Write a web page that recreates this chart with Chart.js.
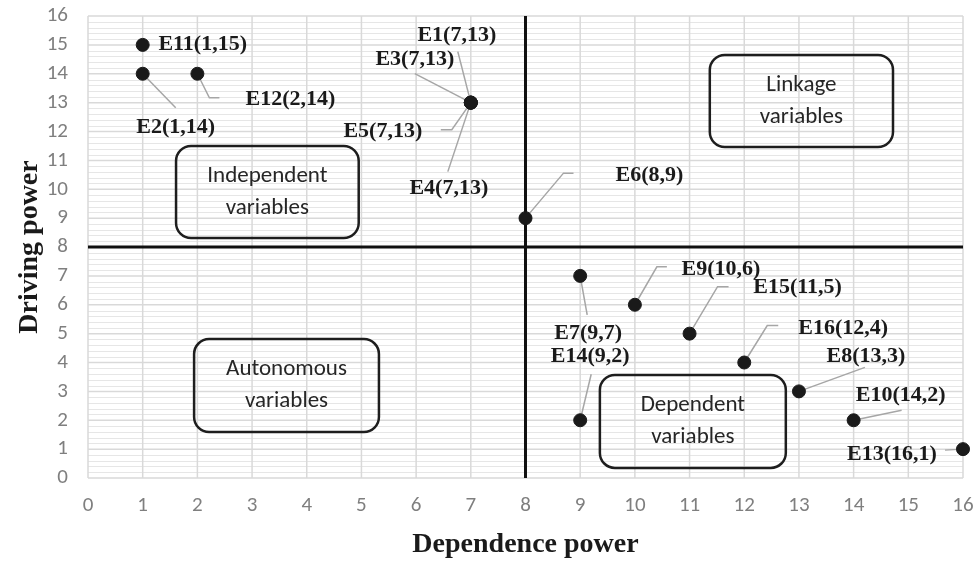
<!DOCTYPE html>
<html>
<head>
<meta charset="utf-8">
<script src="https://cdn.jsdelivr.net/npm/chart.js@4.4.1/dist/chart.umd.min.js"></script>
<style>
  html, body { margin: 0; padding: 0; background: #ffffff; }
  #wrap { width: 975px; height: 564px; }
</style>
</head>
<body>
<div id="wrap"><canvas id="c" width="975" height="564"></canvas></div>
<script>
// ---- data ----
const names      = ['E1','E2','E3','E4','E5','E6','E7','E8','E9','E10','E11','E12','E13','E14','E15','E16'];
const dependence = [7, 1, 7, 7, 7, 8, 9, 13, 10, 14, 1, 2, 16, 9, 11, 12];
const driving    = [13, 14, 13, 13, 13, 9, 7, 3, 6, 2, 15, 14, 1, 2, 5, 4];
const xTicks = [0,1,2,3,4,5,6,7,8,9,10,11,12,13,14,15,16];
const yTicks = [0,1,2,3,4,5,6,7,8,9,10,11,12,13,14,15,16];
const quadrantTitles = [
  ['Independent', 'variables'],
  ['Linkage', 'variables'],
  ['Autonomous', 'variables'],
  ['Dependent', 'variables']
];
const divideX = 8, divideY = 8;

// ---- layout / style (not data) ----
// label text center offset (dx,dy) from point pixel, leader path points relative to point
const labelLayout = {
  E1:  {t:[-14,-67], path:[[-13,-51]]},
  E2:  {t:[33,54],   path:[[33,34]]},
  E3:  {t:[-56,-43], path:[[-56,-29]]},
  E4:  {t:[-22,86],  path:[[-23,69]]},
  E5:  {t:[-88,29],  path:[[-19,27],[-30,27]]},
  E6:  {t:[124,-43], path:[[38,-45],[48,-45]]},
  E7:  {t:[8,57],    path:[[7,39]]},
  E8:  {t:[67,-35],  path:[[66,-24]]},
  E9:  {t:[86,-35],  path:[[22,-38],[32,-38]]},
  E10: {t:[47,-25],  path:[[48,-10]]},
  E11: {t:[60,-1],   path:[]},
  E12: {t:[93,26],   path:[[12,24],[22,24]]},
  E13: {t:[-71,5],   path:[[-18,1]]},
  E14: {t:[10,-64],  path:[[11,-46]]},
  E15: {t:[108,-46], path:[[28,-47],[39,-47]]},
  E16: {t:[99,-34],  path:[[23,-37],[34,-37]]}
};
// quadrant boxes in axis units [x0, x1, yTop, yBottom]
const boxLayout = [
  [1.61, 4.95, 11.5, 8.31],
  [11.37, 14.72, 14.65, 11.46],
  [1.94, 5.32, 4.81, 1.59],
  [9.36, 12.76, 3.57, 0.35]
];

const TICK_FONT = "Carlito, Lato, 'Liberation Sans', sans-serif";
const SERIF = "'Liberation Serif', 'DejaVu Serif', serif";

const points = dependence.map((x, i) => ({x: x, y: driving[i]}));

const overlayPlugin = {
  id: 'overlay',
  beforeDatasetsDraw(chart) {
    const {ctx, chartArea: a, scales: {x, y}} = chart;
    ctx.save();
    // minor horizontal gridlines
    ctx.strokeStyle = '#e6e6e6';
    ctx.lineWidth = 1;
    for (let k = 0; k < yTicks.length - 1; k++) {
      for (let m = 1; m < 5; m++) {
        const yy = Math.round(y.getPixelForValue(yTicks[k] + m * 0.2)) + 0.5;
        ctx.beginPath(); ctx.moveTo(a.left, yy); ctx.lineTo(a.right, yy); ctx.stroke();
      }
    }
    // major gridlines
    ctx.strokeStyle = '#d9d9d9';
    ctx.lineWidth = 1.5;
    yTicks.forEach(v => {
      const yy = y.getPixelForValue(v);
      ctx.beginPath(); ctx.moveTo(a.left, yy); ctx.lineTo(a.right, yy); ctx.stroke();
    });
    xTicks.forEach(v => {
      const xx = x.getPixelForValue(v);
      ctx.beginPath(); ctx.moveTo(xx, a.top); ctx.lineTo(xx, a.bottom); ctx.stroke();
    });
    // quadrant boxes
    ctx.strokeStyle = '#1e1e1e';
    ctx.lineWidth = 2.5;
    ctx.fillStyle = '#262626';
    ctx.font = "23px " + TICK_FONT;
    ctx.textAlign = 'center';
    ctx.textBaseline = 'middle';
    boxLayout.forEach((b, i) => {
      const x0 = x.getPixelForValue(b[0]), x1 = x.getPixelForValue(b[1]);
      const y0 = y.getPixelForValue(b[2]), y1 = y.getPixelForValue(b[3]);
      ctx.beginPath();
      ctx.roundRect(x0, y0, x1 - x0, y1 - y0, 15);
      ctx.stroke();
      const cx = (x0 + x1) / 2, cy = (y0 + y1) / 2;
      const lines = quadrantTitles[i];
      ctx.fillText(lines[0], cx, cy - 16);
      ctx.fillText(lines[1], cx, cy + 16);
    });
    // quadrant dividing lines
    ctx.strokeStyle = '#111111';
    ctx.lineWidth = 3;
    const vx = x.getPixelForValue(divideX), hy = y.getPixelForValue(divideY);
    ctx.beginPath(); ctx.moveTo(vx, a.top); ctx.lineTo(vx, a.bottom); ctx.stroke();
    ctx.beginPath(); ctx.moveTo(a.left, hy); ctx.lineTo(a.right, hy); ctx.stroke();
    // leader lines
    ctx.strokeStyle = '#a6a6a6';
    ctx.lineWidth = 1.5;
    names.forEach((n, i) => {
      const L = labelLayout[n];
      if (!L.path.length) return;
      const px = x.getPixelForValue(dependence[i]), py = y.getPixelForValue(driving[i]);
      ctx.beginPath(); ctx.moveTo(px, py);
      L.path.forEach(p => ctx.lineTo(px + p[0], py + p[1]));
      ctx.stroke();
    });
    ctx.restore();
  },
  afterDatasetsDraw(chart) {
    const {ctx, scales: {x, y}} = chart;
    ctx.save();
    ctx.fillStyle = '#1a1a1a';
    ctx.font = "bold 22px " + SERIF;
    ctx.textAlign = 'center';
    ctx.textBaseline = 'middle';
    names.forEach((n, i) => {
      const L = labelLayout[n];
      const px = x.getPixelForValue(dependence[i]), py = y.getPixelForValue(driving[i]);
      ctx.fillText(n + '(' + dependence[i] + ',' + driving[i] + ')', px + L.t[0], py + L.t[1]);
    });
    ctx.restore();
  }
};

new Chart(document.getElementById('c'), {
  type: 'scatter',
  data: {
    datasets: [{
      data: points,
      backgroundColor: '#1a1a1a',
      borderColor: '#1a1a1a',
      pointRadius: 6.5,
      pointHoverRadius: 6.5,
      clip: false
    }]
  },
  options: {
    responsive: false,
    animation: false,
    devicePixelRatio: 1,
    layout: { padding: { left: 0, right: 12, top: 16, bottom: 0 } },
    plugins: { legend: { display: false }, tooltip: { enabled: false } },
    scales: {
      x: {
        type: 'linear', min: 0, max: 16,
        afterBuildTicks: s => { s.ticks = xTicks.map(v => ({value: v})); },
        afterFit: s => { s.height = 86; s.paddingLeft = 0; s.paddingRight = 0; },
        grid: { display: false, drawTicks: false },
        border: { display: false },
        ticks: { padding: 15, color: '#7f7f7f', font: { family: TICK_FONT, size: 21 } },
        title: { display: true, text: 'Dependence power', color: '#1a1a1a',
                 padding: { top: 0, bottom: 2 },
                 font: { family: SERIF, size: 28, weight: 'bold' } }
      },
      y: {
        type: 'linear', min: 0, max: 16,
        afterBuildTicks: s => { s.ticks = yTicks.map(v => ({value: v})); },
        afterFit: s => { s.width = 88; s.paddingTop = 0; s.paddingBottom = 0; },
        grid: { display: false, drawTicks: false },
        border: { display: false },
        ticks: { padding: 20, color: '#7f7f7f', font: { family: TICK_FONT, size: 21 } },
        title: { display: true, text: 'Driving power', color: '#1a1a1a',
                 padding: { top: 13, bottom: 0 },
                 font: { family: SERIF, size: 28, weight: 'bold' } }
      }
    }
  },
  plugins: [overlayPlugin]
});
</script>
</body>
</html>
